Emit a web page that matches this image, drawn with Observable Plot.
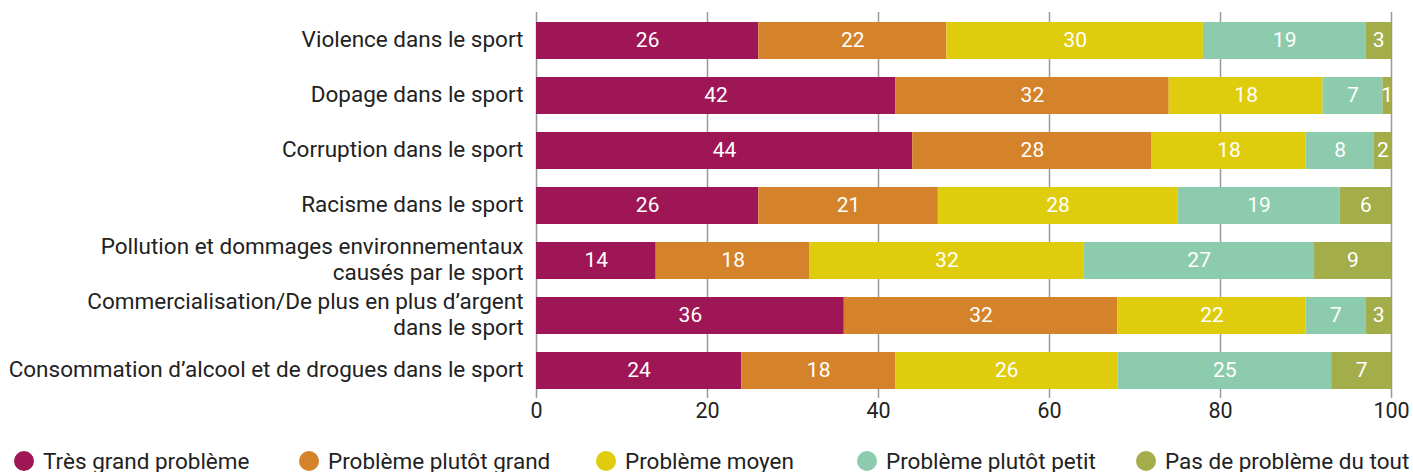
<!DOCTYPE html>
<html>
<head>
<meta charset="utf-8">
<script src="https://cdn.jsdelivr.net/npm/d3@7"></script>
<script src="https://cdn.jsdelivr.net/npm/@observablehq/plot@0.6"></script>
<style>
  html, body { margin: 0; padding: 0; background: #fff; }
  body { width: 1413px; height: 472px; overflow: hidden; font-family: Roboto, "Noto Sans", sans-serif; }
  #chart svg { display: block; }
  #legend { display: flex; align-items: center; height: 24px; padding-left: 14px; font-size: 22.5px; color: #222; margin-top: 9px; }
  .item { display: flex; align-items: center; white-space: nowrap; }
  .sw { width: 20px; height: 20px; border-radius: 50%; margin-right: 9px; flex: none; }
</style>
</head>
<body>
<div id="chart"></div>
<div id="legend"></div>
<script>
const categories = [
  "Violence dans le sport",
  "Dopage dans le sport",
  "Corruption dans le sport",
  "Racisme dans le sport",
  "Pollution et dommages environnementaux\ncausés par le sport",
  "Commercialisation/De plus en plus d\u2019argent\ndans le sport",
  "Consommation d\u2019alcool et de drogues dans le sport"
];
const series = ["Très grand problème", "Problème plutôt grand", "Problème moyen", "Problème plutôt petit", "Pas de problème du tout"];
const colors = ["#9e1655", "#d4832a", "#dfcc0c", "#8ccbad", "#a3ad4a"];
const tresGrand = [26, 42, 44, 26, 14, 36, 24];
const plutotGrand = [22, 32, 28, 21, 18, 32, 18];
const moyen = [30, 18, 18, 28, 32, 22, 26];
const plutotPetit = [19, 7, 8, 19, 27, 7, 25];
const pasDuTout = [3, 1, 2, 6, 9, 3, 7];
const xTicks = [0, 20, 40, 60, 80, 100];

const seriesValues = [tresGrand, plutotGrand, moyen, plutotPetit, pasDuTout];
const data = [];
categories.forEach((c, i) => {
  series.forEach((s, j) => data.push({cat: c, series: s, value: seriesValues[j][i]}));
});

const chart = Plot.plot({
  width: 1413,
  height: 440,
  marginLeft: 536,
  marginRight: 22,
  marginTop: 12,
  marginBottom: 48,
  style: {fontFamily: "Roboto, 'Noto Sans', sans-serif", fontSize: "21px", color: "#222"},
  x: {domain: [0, 100], ticks: xTicks, label: null},
  y: {domain: categories, paddingInner: 0.329, paddingOuter: 0, insetTop: 7, axis: null, label: null},
  color: {domain: series, range: colors},
  marks: [
    Plot.ruleX(xTicks, {stroke: "#999", strokeWidth: 1.5}),
    Plot.barX(data, Plot.stackX({x: "value", y: "cat", fill: "series"})),
    Plot.text(data, Plot.stackX({x: "value", y: "cat", text: "value", fill: "white", fontSize: 21, dy: -1})),
    Plot.text(categories, {x: 0, y: d => d, text: d => d, textAnchor: "end", dx: -13, dy: -2, lineHeight: 1.14, fontSize: 22.5, fill: "#222"}),
    Plot.axisX({ticks: xTicks, tickSize: 6, tickPadding: 4, stroke: "#999", strokeWidth: 1.5, fontSize: 21.5, fill: "#222"})
  ]
});
document.getElementById("chart").appendChild(chart);

const legend = document.getElementById("legend");
const itemWidths = [285, 297, 261, 279, null];
series.forEach((s, i) => {
  const it = document.createElement("div");
  it.className = "item";
  if (itemWidths[i]) it.style.width = itemWidths[i] + "px";
  const sw = document.createElement("span");
  sw.className = "sw";
  sw.style.background = colors[i];
  const tx = document.createElement("span");
  tx.textContent = s;
  it.appendChild(sw); it.appendChild(tx);
  legend.appendChild(it);
});
</script>
</body>
</html>
